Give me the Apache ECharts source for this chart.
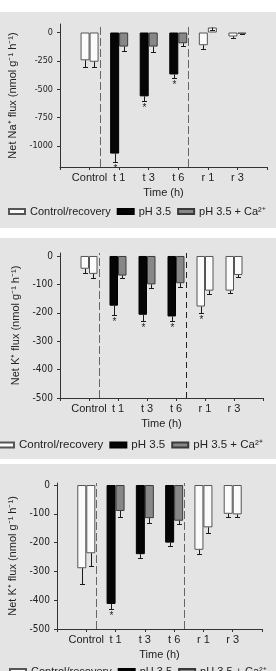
<!DOCTYPE html>
<html lang="en">
<head>
  <meta charset="UTF-8">
  <title>Net Na+ and K+ flux</title>
  <style>
    * { box-sizing: border-box; margin: 0; padding: 0; }
    body { background: #fff; width: 276px; height: 671px; overflow: hidden; position: relative; }
    .panel { position: absolute; left: 0; width: 276px; background: #e4e4e4; }
    #naChart { top: 12px; height: 216px; }
    #k1Chart { top: 238px; height: 221px; }
    #k2Chart { top: 464px; height: 207px; }
  </style>
  <script src="https://cdn.jsdelivr.net/npm/echarts@6/dist/echarts.min.js"></script>
</head>
<body>
  <div id="naChart" class="panel"></div>
  <div id="k1Chart" class="panel"></div>
  <div id="k2Chart" class="panel"></div>

  <script>
    // categories sit on x = 1..6 of a 0..7 value axis
    const categories = ['Control', 't 1', 't 3', 't 6', 'r 1', 'r 3'];
    const catPos = [1, 2, 3, 4, 5, 6];
    const treated = [false, true, true, true, false, false];
    const dividers = [1.5, 4.5];

    // Net Na+ flux
    const naLeft = [-245, -1068, -563, -370, -112, -35];
    const naLeftErr = [-60, -75, -42, -27, -30, -12];
    const naLeftStar = [0, 1, 1, 1, 0, 0];
    const naRight = [-258, -124, -124, -95, 44, -12];
    const naRightErr = [-45, -40, -45, -28, -18, -4];
    const naTicks = [0, -250, -500, -750, -1000];

    // Net K+ flux (upper)
    const k1Left = [-45, -175, -207, -213, -178, -122];
    const k1LeftErr = [-16, -32, -21, -15, -21, -9];
    const k1LeftStar = [0, 1, 1, 1, 1, 0];
    const k1Right = [-63, -69, -100, -96, -122, -67];
    const k1RightErr = [-14, -8, -14, -12, -13, -6];

    // Net K+ flux (lower)
    const k2Left = [-289, -413, -240, -200, -225, -100];
    const k2LeftErr = [-56, -17, -14, -11, -15, -10];
    const k2LeftStar = [0, 1, 0, 0, 0, 0];
    const k2Right = [-237, -90, -115, -124, -147, -102];
    const k2RightErr = [-44, -22, -18, -12, -20, -8];
    const kTicks = [0, -100, -200, -300, -400, -500];

    const noStar = [0, 0, 0, 0, 0, 0];

    const FONT = '"Liberation Sans", Arial, sans-serif';
    const NARROW = '"Liberation Sans Narrow", "DejaVu Sans Condensed", sans-serif';
    const INK = '#222';

    function pick(values, keep) {
      return values.map((v, i) => [catPos[i], keep(i) ? v : '-']);
    }

    function errSeries(values, errs, stars, side, bw) {
      return {
        type: 'custom',
        silent: true,
        z: 5,
        data: values.map((v, i) => [catPos[i], v, errs[i], stars[i]]),
        renderItem: function (params, api) {
          const a = api.coord([api.value(0), api.value(1)]);
          const b = api.coord([api.value(0), api.value(1) + api.value(2)]);
          const cx = Math.round(a[0] + side * bw / 2) + 0.5;
          const ey = Math.round(b[1]) + 0.5;
          const st = { stroke: '#1a1a1a', lineWidth: 1 };
          const kids = [
            { type: 'line', shape: { x1: cx, y1: a[1], x2: cx, y2: ey }, style: st },
            { type: 'line', shape: { x1: cx - 2.5, y1: ey, x2: cx + 2.5, y2: ey }, style: st }
          ];
          if (api.value(3)) {
            kids.push({ type: 'text', x: cx, y: ey + 2,
              style: { text: '*', fill: INK, font: '10px ' + FONT, align: 'center', verticalAlign: 'top' } });
          }
          return { type: 'group', children: kids };
        }
      };
    }

    function draw(id, p) {
      const chart = echarts.init(document.getElementById(id));
      const bw = p.barWidth;
      const white = { color: '#fbfbfb', borderColor: '#555', borderWidth: 1 };
      const black = { color: '#050505', borderColor: '#000', borderWidth: 1 };
      const grey = { color: '#878787', borderColor: '#3a3a3a', borderWidth: 1 };
      chart.setOption({
        animation: false,
        backgroundColor: 'transparent',
        textStyle: { fontFamily: FONT },
        grid: { left: p.gridLeft, right: p.gridRight, top: p.gridTop, bottom: p.gridBottom,
                containLabel: false, outerBoundsMode: 'none' },
        legend: {
          left: p.legendLeft, top: p.legendTop, width: 320, padding: 0,
          icon: 'rect', itemWidth: 16, itemHeight: 5, itemGap: p.legendGap,
          textStyle: { fontFamily: FONT, fontSize: p.legendFont, color: INK },
          data: ['Control/recovery', 'pH 3.5', 'pH 3.5 + Ca²⁺']
        },
        xAxis: {
          type: 'value', min: 0, max: 7, interval: 1,
          name: 'Time (h)', nameLocation: 'middle', nameGap: 20,
          nameTextStyle: { fontFamily: FONT, fontSize: 11, color: INK },
          axisLine: { onZero: false, lineStyle: { color: '#333' } },
          axisTick: { show: true, length: 3, lineStyle: { color: '#333' } },
          axisLabel: {
            margin: 5, fontFamily: FONT, fontSize: 11, color: INK,
            formatter: v => { const i = catPos.indexOf(v); return i < 0 ? '' : categories[i]; }
          },
          splitLine: { show: false }
        },
        yAxis: {
          type: 'value', min: p.yMin, max: p.yMax,
          name: p.yName, nameLocation: 'middle', nameGap: p.nameGap,
          nameTextStyle: { fontFamily: FONT, fontSize: 11, color: INK },
          axisLine: { show: true, onZero: false, lineStyle: { color: '#333' } },
          axisTick: { show: true, length: 3, customValues: p.ticks, lineStyle: { color: '#333' } },
          axisLabel: { customValues: p.ticks, margin: 7, fontFamily: NARROW, fontSize: p.tickFont,
                       color: INK, formatter: v => String(v) },
          splitLine: { show: false }
        },
        series: [
          { name: 'Control/recovery', type: 'bar', stack: 'L', barWidth: bw, barGap: '0%',
            itemStyle: white, data: pick(p.leftVals, i => !treated[i]) },
          { name: 'pH 3.5', type: 'bar', stack: 'L', barWidth: bw, barGap: '0%',
            itemStyle: black, data: pick(p.leftVals, i => treated[i]),
            markLine: {
              silent: true, symbol: ['none', 'none'], label: { show: false },
              data: dividers.map((d, i) => ({ xAxis: d, lineStyle: p.dividerStyle[i] }))
            } },
          { name: 'Control/recovery', type: 'bar', stack: 'R', barWidth: bw, barGap: '0%',
            itemStyle: white, data: pick(p.rightVals, i => !treated[i]) },
          { name: 'pH 3.5 + Ca²⁺', type: 'bar', stack: 'R', barWidth: bw, barGap: '0%',
            itemStyle: grey, data: pick(p.rightVals, i => treated[i]) },
          errSeries(p.leftVals, p.leftErr, p.leftStar, -1, bw),
          errSeries(p.rightVals, p.rightErr, noStar, 1, bw)
        ]
      });
    }

    const greyDash = { color: '#666', width: 1, type: [8, 3] };
    const darkDash = { color: '#222', width: 1, type: [6, 4] };

    draw('naChart', {
      gridLeft: 60, gridRight: 9, gridTop: 12, gridBottom: 61, barWidth: 9,
      yMin: -1186, yMax: 75, ticks: naTicks, tickFont: 9, nameGap: 38,
      yName: 'Net Na⁺ flux (nmol g⁻¹ h⁻¹)',
      legendLeft: 8, legendTop: 194, legendFont: 11, legendGap: 6,
      dividerStyle: [greyDash, greyDash],
      leftVals: naLeft, leftErr: naLeftErr, leftStar: naLeftStar,
      rightVals: naRight, rightErr: naRightErr
    });

    draw('k1Chart', {
      gridLeft: 60, gridRight: 13, gridTop: 15, gridBottom: 61, barWidth: 8.5,
      yMin: -500, yMax: 10.5, ticks: kTicks, tickFont: 10, nameGap: 33,
      yName: 'Net K⁺ flux (nmol g⁻¹ h⁻¹)',
      legendLeft: -3, legendTop: 201, legendFont: 11.5, legendGap: 6,
      dividerStyle: [greyDash, darkDash],
      leftVals: k1Left, leftErr: k1LeftErr, leftStar: k1LeftStar,
      rightVals: k1Right, rightErr: k1RightErr
    });

    draw('k2Chart', {
      gridLeft: 57, gridRight: 14, gridTop: 19, gridBottom: 42, barWidth: 9,
      yMin: -500, yMax: 7, ticks: kTicks, tickFont: 10, nameGap: 32,
      yName: 'Net K⁺ flux (nmol g⁻¹ h⁻¹)',
      legendLeft: 9, legendTop: 202, legendFont: 11, legendGap: 6,
      dividerStyle: [greyDash, greyDash],
      leftVals: k2Left, leftErr: k2LeftErr, leftStar: k2LeftStar,
      rightVals: k2Right, rightErr: k2RightErr
    });
  </script>
</body>
</html>
